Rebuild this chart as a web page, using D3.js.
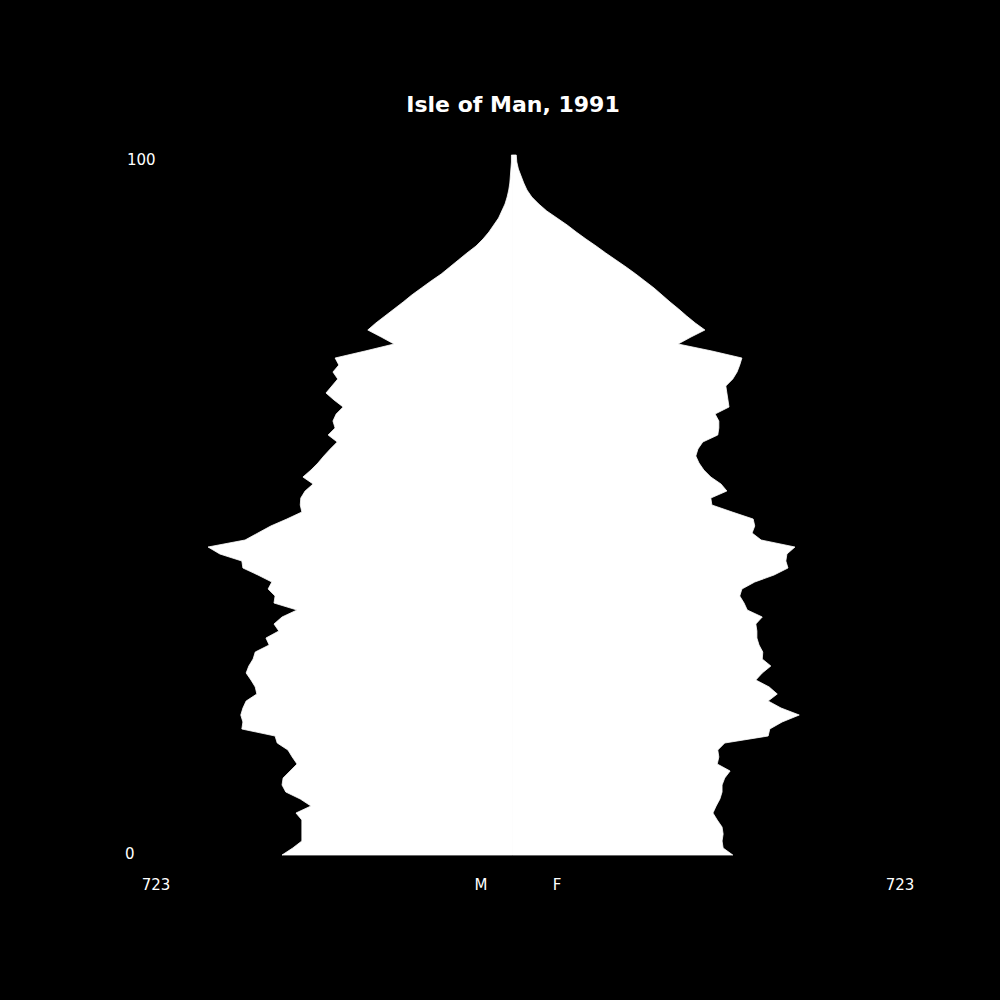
<!DOCTYPE html>
<html>
<head>
<meta charset="utf-8">
<script src="https://cdn.jsdelivr.net/npm/d3@7"></script>
<style>
  body { margin: 0; background: #000; }
  svg { display: block; background: #000; }
  text { font-family: "DejaVu Sans", sans-serif; fill: #fff; }
</style>
</head>
<body>
<div id="pyramid"></div>
<script>
// population by single year of age, 0 to 100
var ages = d3.range(0, 101);

var males = [
  430, 410, 393, 393, 393, 393, 404, 376, 396, 423,
  430, 428, 415, 402, 411, 419, 439, 443, 505, 503,
  507, 503, 497, 477, 480, 488, 497, 492, 484, 480,
  454, 460, 436, 445, 430, 402, 445, 443, 456, 449,
  475, 503, 505, 546, 568, 499, 475, 451, 421, 393,
  396, 395, 387, 372, 391, 376, 363, 352, 340, 327,
  344, 331, 335, 329, 316, 333, 348, 337, 326, 335,
  324, 331, 275, 221, 245, 270, 255, 238, 221, 204,
  188, 170, 152, 133, 117, 101, 85, 68, 55, 44,
  35, 26, 20, 14, 10, 7, 5, 4, 3, 2,
  2
];

var females = [
  411, 393, 391, 393, 391, 382, 374, 380, 387, 391,
  391, 396, 406, 382, 385, 383, 396, 477, 480, 503,
  535, 501, 477, 494, 479, 454, 466, 482, 466, 467,
  460, 456, 456, 454, 466, 438, 432, 424, 428, 452,
  488, 514, 510, 512, 527, 464, 447, 452, 449, 410,
  372, 370, 400, 389, 370, 357, 348, 342, 346, 355,
  383, 385, 385, 378, 404, 402, 400, 398, 411, 419,
  424, 428, 372, 309, 333, 359, 341, 325, 310, 294,
  279, 264, 247, 230, 212, 193, 174, 156, 137, 119,
  102, 83, 64, 49, 36, 27, 21, 16, 11, 8,
  7
];

var maxLabel = 723;

var svgWidth = 1000;
var svgHeight = 1000;

var svg = d3.select("#pyramid")
  .append("svg")
  .attr("width", svgWidth)
  .attr("height", svgHeight);

// scales: males to the left of zero, females to the right
var xScale = d3.scaleLinear()
  .domain([-maxLabel, maxLabel])
  .range([125, 900]);

var yScale = d3.scaleLinear()
  .domain([0, 100])
  .range([855, 155]);

var rows = ages.map(function(a, i) {
  return { age: a, m: males[i], f: females[i] };
});

var maleArea = d3.area()
  .y(d => yScale(d.age))
  .x0(xScale(0))
  .x1(d => xScale(-d.m));

var femaleArea = d3.area()
  .y(d => yScale(d.age))
  .x0(xScale(0))
  .x1(d => xScale(d.f));

svg.append("path")
  .datum(rows)
  .attr("d", maleArea)
  .attr("fill", "#fff")
  .attr("stroke", "#fff")
  .attr("stroke-width", 0.8);

svg.append("path")
  .datum(rows)
  .attr("d", femaleArea)
  .attr("fill", "#fff")
  .attr("stroke", "#fff")
  .attr("stroke-width", 0.8);

// title
svg.append("text")
  .attr("x", 513)
  .attr("y", 112)
  .style("text-anchor", "middle")
  .style("font-weight", "bold")
  .style("font-size", "22px")
  .text("Isle of Man, 1991");

// age labels
svg.append("text")
  .attr("x", 127)
  .attr("y", yScale(100) + 10)
  .style("font-size", "15px")
  .text("100");

svg.append("text")
  .attr("x", 125)
  .attr("y", yScale(0) + 4)
  .style("font-size", "15px")
  .text("0");

// bottom labels
svg.append("text")
  .attr("x", 156)
  .attr("y", 890)
  .style("text-anchor", "middle")
  .style("font-size", "15px")
  .text(maxLabel);

svg.append("text")
  .attr("x", 900)
  .attr("y", 890)
  .style("text-anchor", "middle")
  .style("font-size", "15px")
  .text(maxLabel);

svg.append("text")
  .attr("x", 481)
  .attr("y", 890)
  .style("text-anchor", "middle")
  .style("font-size", "15px")
  .text("M");

svg.append("text")
  .attr("x", 557)
  .attr("y", 890)
  .style("text-anchor", "middle")
  .style("font-size", "15px")
  .text("F");
</script>
</body>
</html>
